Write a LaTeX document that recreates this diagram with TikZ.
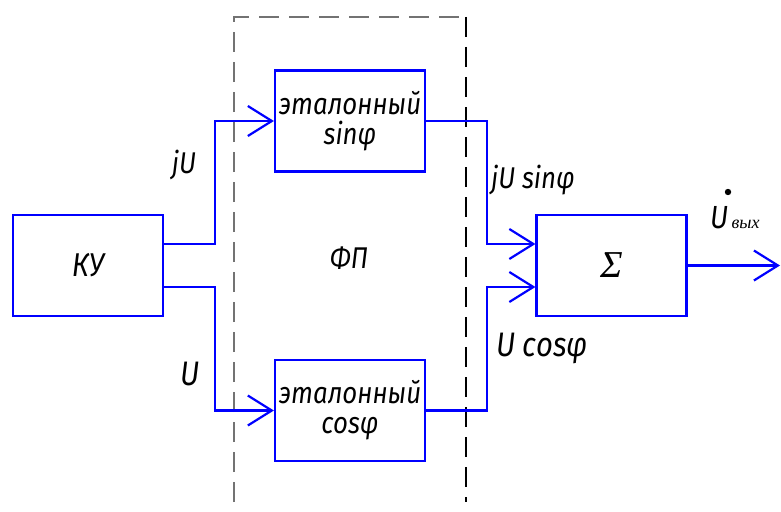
\documentclass[tikz,border=0pt]{standalone}
\usepackage{fontspec}
\usetikzlibrary{arrows.meta}
\newfontfamily\gost{Fira Sans Italic}[FakeStretch=0.86]
\newfontfamily\timesf{Liberation Serif}
\definecolor{sigblue}{RGB}{0,0,255}
\tikzset{
  blk/.style={draw=sigblue, line width=2.2pt, minimum width=150pt, minimum height=101pt, inner sep=0pt, font=\gost\fontsize{30}{34}\selectfont, align=center},
  sig/.style={draw=sigblue, line width=2.2pt},
  arr/.style={sig, -{Straight Barb[length=24pt, width=30pt, line width=2.2pt]}},
  lbl/.style={inner sep=0pt, font=\gost\fontsize{30}{34}\selectfont},
  frame/.style={line width=1.5pt, dash pattern=on 20pt off 10pt}
}
\begin{document}
\begin{tikzpicture}[x=1pt, y=-1pt]
\useasboundingbox (0,0) rectangle (781,511);
% dashed frame
\draw[frame, draw=black!55] (234,502) -- (234,17) -- (466,17);
\draw[frame, draw=black] (466,17) -- (466,502);
% blocks
\node[blk] (ku)  at (88,265.5)  {\fontsize{33}{34}\selectfont КУ};
\node[blk] (sin) at (350,121)   {эталонный\\[-4pt]sinφ};
\node[blk] (cos) at (350,410.5) {эталонный\\[-4pt]cosφ};
\node[blk] (sum) at (611.5,265.5) {\timesf\itshape\fontsize{38}{40}\selectfont Σ};
% connectors
\draw[arr] ([yshift=21.5pt]ku.east) -- ++(51,0) |- (sin.west);
\draw[arr] ([yshift=-21.5pt]ku.east) -- ++(51,0) |- (cos.west);
\draw[arr] (sin.east) -- ++(61,0) |- ([yshift=21.5pt]sum.west);
\draw[arr] (cos.east) -- ++(61,0) |- ([yshift=-21.5pt]sum.west);
\coordinate (out) at (780,265.5);
\draw[arr] (sum.east) -- (out);
% labels
\node[lbl, anchor=base] (ljU) at (184,173) {jU};
\node[lbl, anchor=base, font=\gost\fontsize{34}{36}\selectfont] (lU) at (190,385) {U};
\node[lbl, anchor=base] (lfp) at (349,268) {ФП};
\node[lbl, anchor=base west] (ljUs) at (491,188) {jU sinφ};
\node[lbl, anchor=base west, font=\gost\fontsize{34}{36}\selectfont] (lUc) at (496,356) {U cosφ};
\node[lbl, anchor=base west, font=\gost\fontsize{32}{34}\selectfont] (lUo) at (710,228) {U};
\node[inner sep=0pt, anchor=base west, font=\timesf\itshape\fontsize{18}{18}\selectfont] (lsub) at (lUo.base east) {\kern3pt вых};
\fill (728,192) circle (3.2pt);
\end{tikzpicture}
\end{document}
